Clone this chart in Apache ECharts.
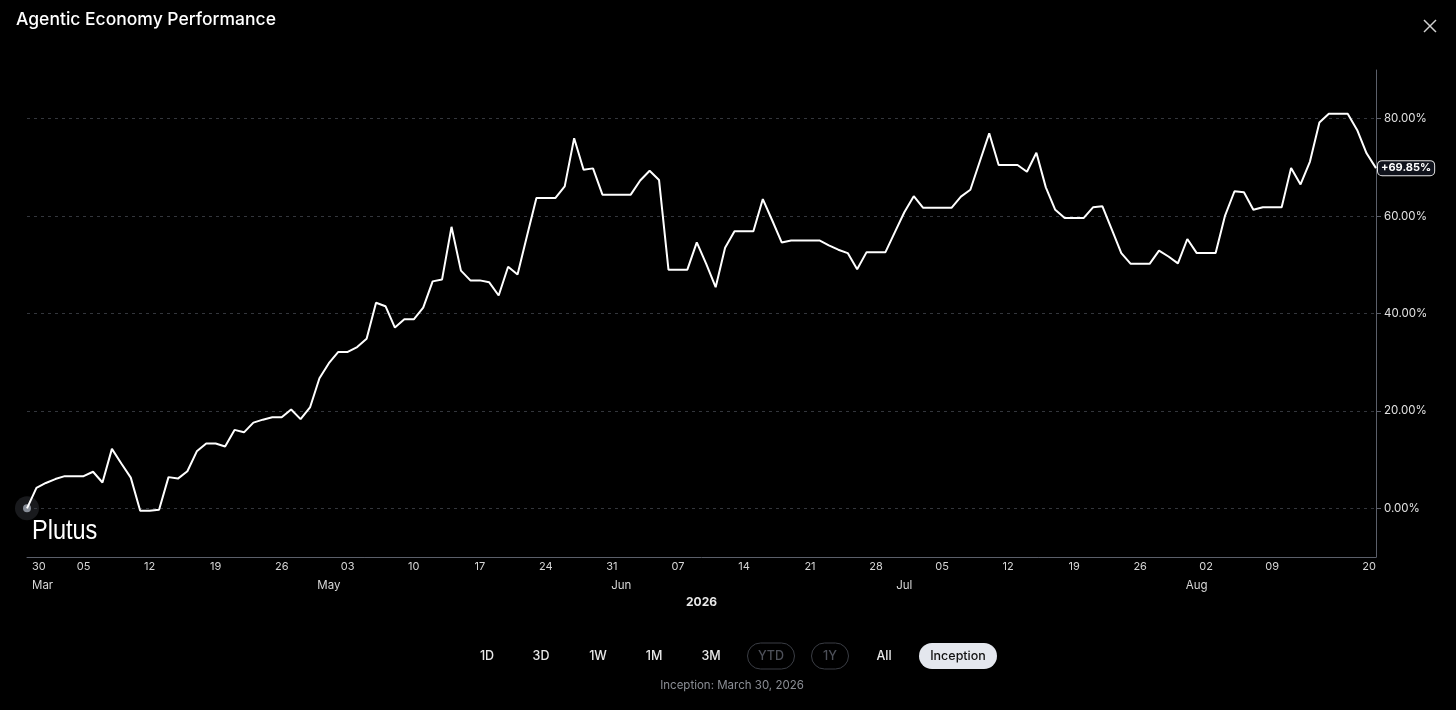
<!DOCTYPE html>
<html>
<head>
<meta charset="utf-8">
<title>Agentic Economy Performance</title>
<script src="https://cdn.jsdelivr.net/npm/echarts@6/dist/echarts.min.js"></script>
<style>
  html, body { margin: 0; padding: 0; background: #000; }
  #chart { width: 1456px; height: 710px; }
</style>
</head>
<body>
<div id="chart"></div>
<script>
// daily performance since inception (%), 2026-03-30 .. 2026-08-20
const startDate = '2026-03-30';
const perf = [
  0, 4.2, 5.2, 6.0, 6.6, 6.6, 6.6, 7.5, 5.3, 12.2,
  9.2, 6.3, -0.5, -0.5, -0.3, 6.4, 6.1, 7.6, 11.7, 13.3,
  13.3, 12.7, 16.1, 15.6, 17.6, 18.2, 18.7, 18.7, 20.3, 18.3,
  20.7, 26.7, 29.8, 32.1, 32.1, 33.1, 34.8, 42.2, 41.5, 37.1,
  38.8, 38.8, 41.2, 46.6, 47.0, 57.8, 48.8, 46.8, 46.8, 46.4,
  43.7, 49.6, 48.0, 55.9, 63.7, 63.7, 63.7, 66.1, 76.0, 69.5,
  69.8, 64.4, 64.4, 64.4, 64.4, 67.3, 69.3, 67.4, 49.0, 49.0,
  49.0, 54.6, 50.2, 45.4, 53.5, 56.9, 56.9, 56.9, 63.5, 59.1,
  54.6, 55.0, 55.0, 55.0, 55.0, 54.0, 53.1, 52.4, 49.1, 52.6,
  52.6, 52.6, 56.7, 60.8, 64.1, 61.7, 61.7, 61.7, 61.7, 64.0,
  65.4, 71.2, 77.0, 70.5, 70.5, 70.5, 69.1, 73.0, 65.9, 61.3,
  59.6, 59.6, 59.6, 61.8, 62.0, 57.2, 52.4, 50.2, 50.2, 50.2,
  52.9, 51.7, 50.3, 55.3, 52.4, 52.4, 52.4, 60.1, 65.1, 64.9,
  61.3, 61.8, 61.8, 61.8, 69.9, 66.5, 71.2, 79.2, 81.0, 81.0,
  81.0, 77.7, 72.9, 69.85
];

// axis labels
const dayTicks = [
  '2026-03-30', '2026-04-05', '2026-04-12', '2026-04-19', '2026-04-26',
  '2026-05-03', '2026-05-10', '2026-05-17', '2026-05-24', '2026-05-31',
  '2026-06-07', '2026-06-14', '2026-06-21', '2026-06-28', '2026-07-05',
  '2026-07-12', '2026-07-19', '2026-07-26', '2026-08-02', '2026-08-09',
  '2026-08-20'
];
const monthTicks = ['2026-03-30', '2026-05-01', '2026-06-01', '2026-07-01', '2026-08-01'];
const monthNames = ['Mar', 'May', 'Jun', 'Jul', 'Aug'];
const yTicks = [0, 20, 40, 60, 80];

const rangeButtons = ['1D', '3D', '1W', '1M', '3M', 'YTD', '1Y', 'All', 'Inception'];
const rangeState = ['plain', 'plain', 'plain', 'plain', 'plain', 'disabled', 'disabled', 'plain', 'active'];

// build the date categories
let dates = [];
{
  let d = new Date(startDate + 'T00:00:00Z');
  for (let i = 0; i < perf.length; i++) {
    dates.push(d.toISOString().slice(0, 10));
    d.setUTCDate(d.getUTCDate() + 1);
  }
}

const font = 'Inter, "Noto Sans", sans-serif';

// bottom buttons
const btnX = [487, 541, 598, 654, 711, 771, 830, 884, 958];
const btnW = [0, 0, 0, 0, 0, 47, 37, 0, 78];
let graphics = [];
rangeButtons.forEach(function (txt, i) {
  let st = rangeState[i];
  if (st !== 'plain') {
    graphics.push({
      type: 'rect',
      shape: { x: btnX[i] - btnW[i] / 2, y: 643, width: btnW[i], height: 26, r: 13 },
      style: st === 'active'
        ? { fill: '#e4e7ee', stroke: null }
        : { fill: 'transparent', stroke: '#3a3d44', lineWidth: 1 }
    });
  }
  graphics.push({
    type: 'text',
    x: btnX[i], y: 656,
    style: {
      text: txt,
      fill: st === 'active' ? '#111' : (st === 'disabled' ? '#4d5059' : '#e8e8e8'),
      font: '500 12.5px ' + font,
      textAlign: 'center',
      textVerticalAlign: 'middle'
    }
  });
});

graphics.push(
  {
    type: 'text', x: 16, y: 20,
    style: { text: 'Agentic Economy Performance', fill: '#fff', font: '500 17.5px ' + font, textVerticalAlign: 'middle' }
  },
  {
    type: 'text', x: 732, y: 686,
    style: { text: 'Inception: March 30, 2026', fill: '#8a8d94', font: '11.5px ' + font, textAlign: 'center', textVerticalAlign: 'middle' }
  },
  {
    type: 'text', x: 32, y: 531, scaleX: 0.84,
    style: { text: 'Plutus', fill: '#fff', font: '28px "Liberation Sans", Arial, sans-serif', textVerticalAlign: 'middle' }
  },
  { type: 'line', shape: { x1: 1424, y1: 20, x2: 1436, y2: 32 }, style: { stroke: '#d0d0d0', lineWidth: 1.5 } },
  { type: 'line', shape: { x1: 1436, y1: 20, x2: 1424, y2: 32 }, style: { stroke: '#d0d0d0', lineWidth: 1.5 } }
);

let option = {
  backgroundColor: '#000',
  animation: false,
  textStyle: { fontFamily: font },
  grid: { left: 27, right: 80, top: 70, bottom: 153, containLabel: false },
  xAxis: [{
    type: 'category',
    data: dates,
    boundaryGap: false,
    name: '2026',
    nameLocation: 'middle',
    nameGap: 39,
    nameTextStyle: { color: '#e8e8e8', fontSize: 12, fontWeight: 'bold', verticalAlign: 'top' },
    axisLine: { show: true, onZero: false, lineStyle: { color: '#5b5f6a', width: 1 } },
    axisTick: { show: false },
    splitLine: { show: false },
    axisLabel: {
      color: '#d6d6d6',
      fontSize: 11,
      margin: 4,
      alignMinLabel: 'left',
      alignMaxLabel: 'right',
      interval: function (idx, val) { return dayTicks.indexOf(val) >= 0; },
      formatter: function (val) {
        return val === dates[0] ? '{first|' + val.slice(8) + '}' : val.slice(8);
      },
      rich: { first: { color: '#d6d6d6', fontSize: 11, padding: [0, 0, 0, 5] } }
    }
  }, {
    type: 'category',
    data: dates,
    boundaryGap: false,
    position: 'bottom',
    offset: 19,
    axisLine: { show: false, onZero: false },
    axisTick: { show: false },
    splitLine: { show: false },
    axisLabel: {
      color: '#d6d6d6',
      fontSize: 11.5,
      margin: 4,
      alignMinLabel: 'left',
      interval: function (idx, val) { return monthTicks.indexOf(val) >= 0; },
      formatter: function (val) {
        let name = monthNames[monthTicks.indexOf(val)];
        return val === dates[0] ? '{first|' + name + '}' : name;
      },
      rich: { first: { color: '#d6d6d6', fontSize: 11.5, padding: [0, 0, 0, 5] } }
    }
  }],
  yAxis: {
    type: 'value',
    position: 'right',
    min: -10,
    max: 90,
    axisLine: { show: true, lineStyle: { color: '#5b5f6a', width: 1 } },
    axisTick: { show: true, customValues: yTicks, length: 5, lineStyle: { color: '#5b5f6a' } },
    splitLine: { show: true, lineStyle: { color: '#33363c', type: [3, 4], width: 1 } },
    axisLabel: {
      customValues: yTicks,
      color: '#e2e2e2',
      fontSize: 11.5,
      margin: 8,
      formatter: function (v) { return v.toFixed(2) + '%'; }
    }
  },
  graphic: graphics,
  series: [{
    type: 'line',
    data: perf,
    showSymbol: false,
    symbol: 'none',
    lineStyle: { color: '#fff', width: 2 },
    endLabel: {
      show: true,
      distance: 2,
      formatter: function (p) { return '+' + p.value.toFixed(2) + '%'; },
      color: '#fff',
      fontSize: 11,
      fontWeight: 'bold',
      backgroundColor: '#10131c',
      borderColor: '#e6e6e6',
      borderWidth: 1,
      borderRadius: 4,
      padding: [2, 3, 1, 3]
    }
  }, {
    type: 'scatter',
    clip: false,
    silent: true,
    data: [[dates[0], perf[0]]],
    symbolSize: 24,
    itemStyle: { color: 'rgba(70,72,80,0.45)' }
  }, {
    type: 'scatter',
    clip: false,
    silent: true,
    data: [[dates[0], perf[0]]],
    symbolSize: 8,
    itemStyle: { color: '#a4abb8' }
  }]
};

let myChart = echarts.init(document.getElementById('chart'));
myChart.setOption(option);
</script>
</body>
</html>
